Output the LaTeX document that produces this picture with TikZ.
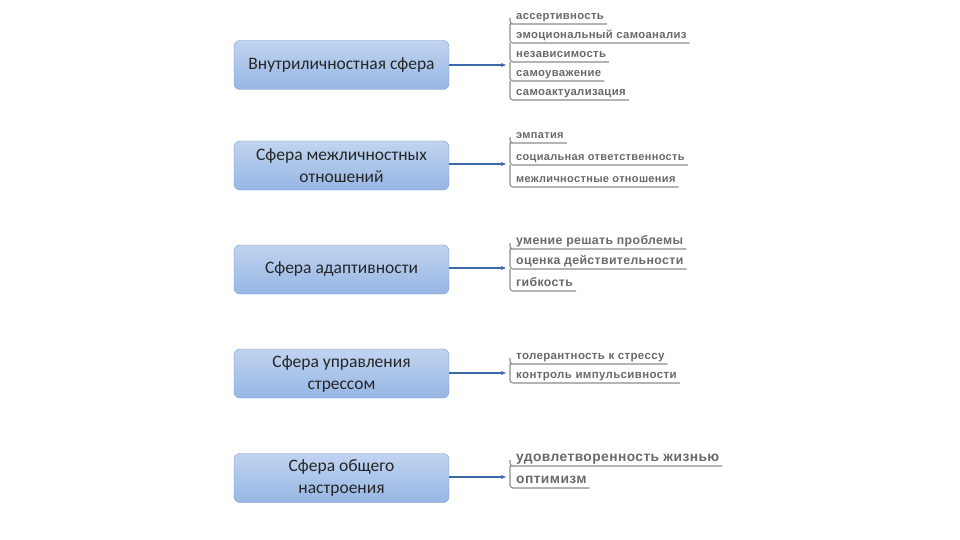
\documentclass[tikz,border=0pt]{standalone}
\usepackage{fontspec}
\setmainfont{Carlito}
\newfontfamily\itemfont[LetterSpace=3]{Liberation Sans}
\usepackage{tikz}
\usetikzlibrary{calc,positioning,arrows.meta}
\usepackage{xcolor}
\definecolor{boxtop}{RGB}{192,212,240}
\definecolor{boxbot}{RGB}{150,182,228}
\definecolor{boxline}{RGB}{120,155,200}
\definecolor{arrblue}{RGB}{60,105,170}
\definecolor{itemgray}{RGB}{105,105,105}
\definecolor{linegray}{RGB}{140,140,140}

\begin{document}
\begin{tikzpicture}[x=1pt,y=-1pt,
  sphere/.style={draw=boxline, rounded corners=6pt, top color=boxtop, bottom color=boxbot,
    minimum width=215pt, minimum height=49pt, align=center, text=black!85,
    font=\fontsize{17.5}{22}\selectfont},
  item/.style={anchor=south west, inner xsep=3pt, inner ysep=1.2pt, text depth=2.8pt,
    text=itemgray, font=\itemfont\bfseries\fontsize{11.3}{12}\selectfont},
  brk/.style={linegray, line width=1.1pt, rounded corners=3pt},
  link/.style={arrblue, line width=1.1pt, -{Stealth[length=5pt,width=4pt]}}]
  \useasboundingbox (0,0) rectangle (960,540);

  % Spheres
  \node[sphere] (s1) at (341.5,65) {Внутриличностная сфера};
  \node[sphere] (s2) at (341.5,165.5) {Сфера межличностных\\отношений};
  \node[sphere] (s3) at (341.5,269.5) {Сфера адаптивности};
  \node[sphere] (s4) at (341.5,373.5) {Сфера управления\\стрессом};
  \node[sphere] (s5) at (341.5,478) {Сфера общего\\настроения};

  % Group 1
  \node[item] (a1) at (513,24) {ассертивность};
  \node[item] (a2) at (513,43) {эмоциональный самоанализ};
  \node[item] (a3) at (513,62) {независимость};
  \node[item] (a4) at (513,81) {самоуважение};
  \node[item] (a5) at (513,100) {самоактуализация};
  \draw[brk] (a1.south east) -- (a1.south west) -| ([xshift=-3pt,yshift=6pt]a1.south west);
  \foreach \p/\q in {a1/a2,a2/a3,a3/a4,a4/a5}
    \draw[brk] ([xshift=-3pt]\p.south west) |- (\q.south east);

  % Group 2
  \node[item, font=\itemfont\bfseries\fontsize{11}{12}\selectfont] (b1) at (513,143) {эмпатия};
  \node[item, font=\itemfont\bfseries\fontsize{11}{12}\selectfont] (b2) at (513,165) {социальная ответственность};
  \node[item, font=\itemfont\bfseries\fontsize{11}{12}\selectfont] (b3) at (513,187) {межличностные отношения};
  \draw[brk] (b1.south east) -- (b1.south west) -| ([xshift=-3pt,yshift=6pt]b1.south west);
  \foreach \p/\q in {b1/b2,b2/b3}
    \draw[brk] ([xshift=-3pt]\p.south west) |- (\q.south east);

  % Group 3
  \node[item, font=\itemfont\bfseries\fontsize{12.3}{13}\selectfont] (c1) at (513,249) {умение решать проблемы};
  \node[item, font=\itemfont\bfseries\fontsize{12.3}{13}\selectfont] (c2) at (513,269) {оценка действительности};
  \node[item, font=\itemfont\bfseries\fontsize{12.3}{13}\selectfont] (c3) at (513,291) {гибкость};
  \draw[brk] (c1.south east) -- (c1.south west) -| ([xshift=-3pt,yshift=6pt]c1.south west);
  \foreach \p/\q in {c1/c2,c2/c3}
    \draw[brk] ([xshift=-3pt]\p.south west) |- (\q.south east);

  % Group 4
  \node[item, font=\itemfont\bfseries\fontsize{11.5}{12}\selectfont] (d1) at (513,364) {толерантность к стрессу};
  \node[item, font=\itemfont\bfseries\fontsize{11.5}{12}\selectfont] (d2) at (513,383) {контроль импульсивности};
  \draw[brk] (d1.south east) -- (d1.south west) -| ([xshift=-3pt,yshift=6pt]d1.south west);
  \draw[brk] ([xshift=-3pt]d1.south west) |- (d2.south east);

  % Group 5
  \node[item, font=\itemfont\bfseries\fontsize{13.8}{15}\selectfont] (e1) at (513,466) {удовлетворенность жизнью};
  \node[item, font=\itemfont\bfseries\fontsize{13.8}{15}\selectfont] (e2) at (513,488) {оптимизм};
  \draw[brk] (e1.south east) -- (e1.south west) -| ([xshift=-3pt,yshift=6pt]e1.south west);
  \draw[brk] ([xshift=-3pt]e1.south west) |- (e2.south east);

  % Arrows
  \coordinate (t1) at (506,65);
  \coordinate (t2) at (506,164);
  \coordinate (t3) at (506,268);
  \coordinate (t4) at (506,373);
  \coordinate (t5) at (506,477);
  \foreach \i in {1,...,5}
    \draw[link] (s\i.east |- t\i) -- (t\i);
\end{tikzpicture}
\end{document}
